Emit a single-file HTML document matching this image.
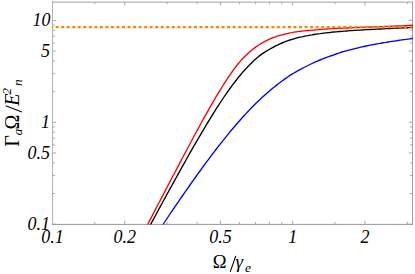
<!DOCTYPE html>
<html><head><meta charset="utf-8"><title>plot</title>
<style>html,body{margin:0;padding:0;background:#fff}svg{display:block}</style>
</head><body>
<svg width="415" height="274" viewBox="0 0 415 274">
<defs><clipPath id="c"><rect x="52" y="2.1" width="361.0" height="222.3"/></clipPath></defs>
<rect width="415" height="274" fill="#fff"/>
<path d="M52.50 224.4v-3.7M52.50 2.1v3.4000000000000004M124.81 224.4v-3.7M124.81 2.1v3.4000000000000004M220.39 224.4v-3.7M220.39 2.1v3.4000000000000004M292.70 224.4v-3.7M292.70 2.1v3.4000000000000004M365.01 224.4v-3.7M365.01 2.1v3.4000000000000004M52.5 224.20h3.7M412.5 224.20h-3.7M52.5 152.97h3.7M412.5 152.97h-3.7M52.5 122.30h3.7M412.5 122.30h-3.7M52.5 51.07h3.7M412.5 51.07h-3.7M52.5 20.40h3.7M412.5 20.40h-3.7" stroke="#a0a0a0" stroke-width="0.9" fill="none"/>
<path d="M94.80 224.4v-2.5M94.80 2.1v2.1M167.10 224.4v-2.5M167.10 2.1v2.1M197.11 224.4v-2.5M197.11 2.1v2.1M239.41 224.4v-2.5M239.41 2.1v2.1M255.49 224.4v-2.5M255.49 2.1v2.1M269.42 224.4v-2.5M269.42 2.1v2.1M281.71 224.4v-2.5M281.71 2.1v2.1M335.00 224.4v-2.5M335.00 2.1v2.1M407.30 224.4v-2.5M407.30 2.1v2.1M52.5 193.53h2.5M412.5 193.53h-2.5M52.5 175.58h2.5M412.5 175.58h-2.5M52.5 162.85h2.5M412.5 162.85h-2.5M52.5 144.91h2.5M412.5 144.91h-2.5M52.5 138.08h2.5M412.5 138.08h-2.5M52.5 132.18h2.5M412.5 132.18h-2.5M52.5 126.96h2.5M412.5 126.96h-2.5M52.5 91.63h2.5M412.5 91.63h-2.5M52.5 73.68h2.5M412.5 73.68h-2.5M52.5 60.95h2.5M412.5 60.95h-2.5M52.5 43.01h2.5M412.5 43.01h-2.5M52.5 36.18h2.5M412.5 36.18h-2.5M52.5 30.28h2.5M412.5 30.28h-2.5M52.5 25.06h2.5M412.5 25.06h-2.5" stroke="#ababab" stroke-width="1" fill="none"/>
<path d="M52.5 1.6V224.9" stroke="#b2b2b2" stroke-width="1" fill="none"/>
<path d="M52.0 224.4H413.0" stroke="#989898" stroke-width="1" fill="none"/>
<path d="M412.5 1.6V224.9" stroke="#a0a0a0" stroke-width="1" fill="none"/>
<path d="M52.0 2.1H413.0" stroke="#a2a2a2" stroke-width="1" fill="none"/>
<g clip-path="url(#c)" fill="none" stroke-width="1.35" stroke-linejoin="round">
<polyline stroke="#0000ff" points="154.0,238.0 156.0,235.0 158.0,232.0 160.0,228.9 162.0,226.0 164.0,223.0 166.0,220.0 168.0,217.0 170.0,214.0 172.0,211.1 174.0,208.1 176.0,205.2 178.0,202.3 180.0,199.4 182.0,196.5 184.0,193.6 186.0,190.7 188.0,187.8 190.0,185.0 192.0,182.1 194.0,179.3 196.0,176.5 198.0,173.7 200.0,171.0 202.0,168.2 204.0,165.5 206.0,162.7 208.0,160.1 210.0,157.4 212.0,154.7 214.0,152.1 216.0,149.5 218.0,146.9 220.0,144.3 222.0,141.8 224.0,139.3 226.0,136.8 228.0,134.3 230.0,131.9 232.0,129.5 234.0,127.2 236.0,124.8 238.0,122.5 240.0,120.2 242.0,118.0 244.0,115.8 246.0,113.6 248.0,111.5 250.0,109.4 252.0,107.3 254.0,105.3 256.0,103.3 258.0,101.4 260.0,99.5 262.0,97.6 264.0,95.7 266.0,93.9 268.0,92.2 270.0,90.5 272.0,88.8 274.0,87.2 276.0,85.6 278.0,84.0 280.0,82.5 282.0,81.0 284.0,79.6 286.0,78.1 288.0,76.8 290.0,75.4 292.0,74.2 294.0,73.0 296.0,71.8 298.0,70.7 300.0,69.6 302.0,68.6 304.0,67.5 306.0,66.5 308.0,65.5 310.0,64.5 312.0,63.5 314.0,62.6 316.0,61.7 318.0,60.8 320.0,60.0 322.0,59.2 324.0,58.4 326.0,57.6 328.0,56.9 330.0,56.2 332.0,55.5 334.0,54.8 336.0,54.0 338.0,53.3 340.0,52.7 342.0,52.0 344.0,51.4 346.0,50.8 348.0,50.3 350.0,49.8 352.0,49.3 354.0,48.8 356.0,48.3 358.0,47.8 360.0,47.3 362.0,46.9 364.0,46.5 366.0,46.0 368.0,45.6 370.0,45.2 372.0,44.8 374.0,44.5 376.0,44.1 378.0,43.7 380.0,43.4 382.0,43.0 384.0,42.7 386.0,42.4 388.0,42.0 390.0,41.7 392.0,41.4 394.0,41.1 396.0,40.8 398.0,40.5 400.0,40.2 402.0,39.9 404.0,39.6 406.0,39.4 408.0,39.1 410.0,38.8 412.0,38.5 414.0,38.3"/>
<polyline stroke="#000000" points="144.0,236.7 146.0,233.0 148.0,229.3 150.0,225.6 152.0,221.9 154.0,218.2 156.0,214.5 158.0,210.8 160.0,207.2 162.0,203.5 164.0,199.8 166.0,196.2 168.0,192.5 170.0,188.9 172.0,185.2 174.0,181.6 176.0,178.0 178.0,174.4 180.0,170.8 182.0,167.2 184.0,163.6 186.0,160.0 188.0,156.5 190.0,152.9 192.0,149.4 194.0,145.9 196.0,142.4 198.0,139.0 200.0,135.6 202.0,132.2 204.0,128.8 206.0,125.4 208.0,122.1 210.0,118.8 212.0,115.6 214.0,112.4 216.0,109.2 218.0,106.1 220.0,103.0 222.0,100.0 224.0,97.0 226.0,94.1 228.0,91.2 230.0,88.5 232.0,85.7 234.0,83.1 236.0,80.5 238.0,77.9 240.0,75.5 242.0,73.1 244.0,70.8 246.0,68.6 248.0,66.5 250.0,64.4 252.0,62.4 254.0,60.5 256.0,58.7 258.0,57.0 260.0,55.4 262.0,53.9 264.0,52.6 266.0,51.3 268.0,50.2 270.0,49.0 272.0,47.9 274.0,46.8 276.0,45.7 278.0,44.8 280.0,43.8 282.0,43.0 284.0,42.2 286.0,41.4 288.0,40.7 290.0,40.0 292.0,39.4 294.0,38.8 296.0,38.2 298.0,37.7 300.0,37.2 302.0,36.8 304.0,36.3 306.0,35.9 308.0,35.6 310.0,35.2 312.0,34.9 314.0,34.5 316.0,34.2 318.0,33.9 320.0,33.7 322.0,33.4 324.0,33.1 326.0,32.9 328.0,32.7 330.0,32.5 332.0,32.2 334.0,32.0 336.0,31.9 338.0,31.7 340.0,31.5 342.0,31.3 344.0,31.1 346.0,31.0 348.0,30.8 350.0,30.7 352.0,30.6 354.0,30.4 356.0,30.3 358.0,30.2 360.0,30.1 362.0,30.0 364.0,29.8 366.0,29.7 368.0,29.6 370.0,29.5 372.0,29.4 374.0,29.3 376.0,29.2 378.0,29.1 380.0,29.0 382.0,28.9 384.0,28.8 386.0,28.7 388.0,28.6 390.0,28.5 392.0,28.4 394.0,28.3 396.0,28.2 398.0,28.1 400.0,28.0 402.0,27.9 404.0,27.8 406.0,27.7 408.0,27.7 410.0,27.6 412.0,27.5 414.0,27.4"/>
<polyline stroke="#ff0000" points="140.0,239.1 142.0,235.3 144.0,231.4 146.0,227.6 148.0,223.7 150.0,219.9 152.0,216.1 154.0,212.2 156.0,208.4 158.0,204.5 160.0,200.7 162.0,196.9 164.0,193.1 166.0,189.2 168.0,185.4 170.0,181.6 172.0,177.8 174.0,174.0 176.0,170.2 178.0,166.4 180.0,162.6 182.0,158.8 184.0,155.0 186.0,151.2 188.0,147.5 190.0,143.7 192.0,140.0 194.0,136.3 196.0,132.5 198.0,128.9 200.0,125.2 202.0,121.5 204.0,117.9 206.0,114.3 208.0,110.8 210.0,107.2 212.0,103.8 214.0,100.3 216.0,96.9 218.0,93.6 220.0,90.3 222.0,87.0 224.0,83.9 226.0,80.8 228.0,77.7 230.0,74.8 232.0,71.9 234.0,69.2 236.0,66.5 238.0,64.0 240.0,61.6 242.0,59.3 244.0,57.2 246.0,55.2 248.0,53.4 250.0,51.6 252.0,50.0 254.0,48.4 256.0,46.9 258.0,45.5 260.0,44.2 262.0,43.0 264.0,41.8 266.0,40.8 268.0,39.8 270.0,38.9 272.0,38.1 274.0,37.3 276.0,36.6 278.0,35.9 280.0,35.3 282.0,34.8 284.0,34.3 286.0,33.8 288.0,33.4 290.0,32.9 292.0,32.6 294.0,32.2 296.0,31.9 298.0,31.6 300.0,31.3 302.0,31.1 304.0,30.9 306.0,30.7 308.0,30.5 310.0,30.3 312.0,30.1 314.0,30.0 316.0,29.8 318.0,29.7 320.0,29.5 322.0,29.3 324.0,29.2 326.0,29.0 328.0,28.9 330.0,28.8 332.0,28.7 334.0,28.6 336.0,28.5 338.0,28.4 340.0,28.3 342.0,28.2 344.0,28.1 346.0,28.0 348.0,28.0 350.0,27.9 352.0,27.8 354.0,27.7 356.0,27.6 358.0,27.5 360.0,27.4 362.0,27.4 364.0,27.3 366.0,27.2 368.0,27.1 370.0,27.0 372.0,27.0 374.0,26.9 376.0,26.8 378.0,26.7 380.0,26.6 382.0,26.6 384.0,26.5 386.0,26.4 388.0,26.3 390.0,26.2 392.0,26.2 394.0,26.1 396.0,26.0 398.0,25.9 400.0,25.8 402.0,25.8 404.0,25.7 406.0,25.6 408.0,25.5 410.0,25.4 412.0,25.4 414.0,25.3"/>
<line x1="52" x2="412.5" y1="27.1" y2="27.1" stroke="#ff8000" stroke-width="2.2" stroke-dasharray="2.9 2.632" stroke-dashoffset="1.862"/>
</g>
<g font-family="'Liberation Serif', serif" font-style="italic" font-size="18" fill="#000">
<text x="52.5" y="242.8" text-anchor="middle">0.1</text>
<text x="124.8" y="242.8" text-anchor="middle">0.2</text>
<text x="220.4" y="242.8" text-anchor="middle">0.5</text>
<text x="292.7" y="242.8" text-anchor="middle">1</text>
<text x="365" y="242.8" text-anchor="middle">2</text>
<text x="50" y="229.95" text-anchor="end">0.1</text>
<text x="50" y="158.7" text-anchor="end">0.5</text>
<text x="50" y="128.05" text-anchor="end">1</text>
<text x="50" y="56.8" text-anchor="end">5</text>
<text x="50.5" y="26.15" text-anchor="end">10</text>
</g>
<g font-family="'Liberation Serif', serif" fill="#000">
<text x="212.8" y="268.3" font-size="18.5">Ω</text>
<text x="235.5" y="268.2" font-size="19" font-style="italic">γ</text>
<text x="245" y="271.8" font-size="13.5" font-style="italic">e</text>
</g>
<line x1="230.2" y1="271.9" x2="235.8" y2="255.9" stroke="#000" stroke-width="1.1"/>
<g transform="translate(19.2,147) rotate(-90)">
<g font-family="'Liberation Serif', serif" fill="#000">
<text x="0.3" y="0" font-size="20">Γ</text>
<text x="11.5" y="3" font-size="13.5" font-style="italic">a</text>
<text x="17.5" y="0" font-size="20">Ω</text>
<text x="41.3" y="0" font-size="20" font-style="italic">E</text>
<text x="52.3" y="-8.2" font-size="13.5" font-style="italic">2</text>
<text x="61" y="2.8" font-size="13.5" font-style="italic">n</text>
</g>
<line x1="35" y1="2.7" x2="41.2" y2="-13.5" stroke="#000" stroke-width="1.1"/></g>
</svg>
</body></html>
